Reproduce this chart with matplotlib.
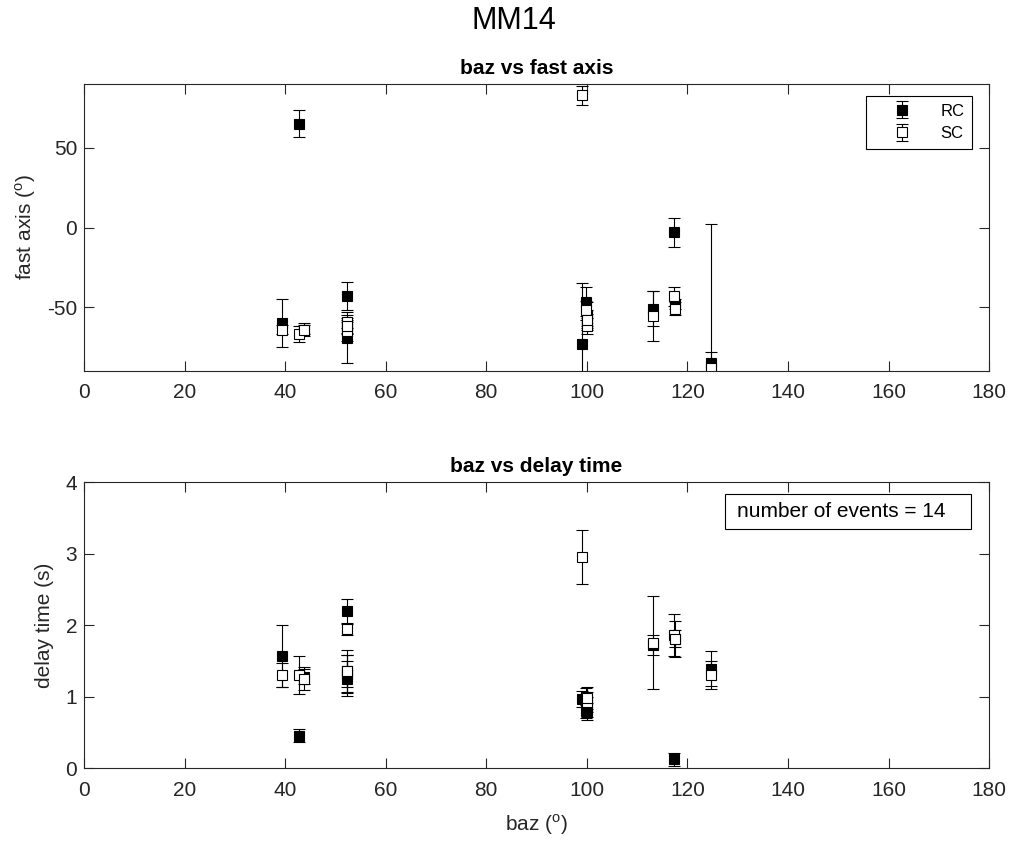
import matplotlib
matplotlib.use("Agg")
import matplotlib.pyplot as plt
from matplotlib.patches import Rectangle

plt.rcParams['font.family'] = ['Liberation Sans', 'DejaVu Sans']
plt.rcParams['mathtext.fontset'] = 'custom'
plt.rcParams['mathtext.rm'] = 'Liberation Sans'
plt.rcParams['axes.unicode_minus'] = False

station = 'MM14'

# back azimuth of each event (deg)
baz = [39.3, 42.8, 43.8, 52.3, 52.3, 52.3, 99.1, 99.8, 100.0, 100.0,
       113.1, 117.4, 117.6, 124.7]

# fast axis (deg) and errors, rotation-correlation (RC) and silver-chan (SC)
fast_rc = [-60, 65, -64, -43, -69, -62, -73, -46.5, -58, -55, -51, -3, -48, -85]
fast_rc_err = [15, 8.5, 3, 9, 16, 5, 38, 9, 6, 8, 11, 9, 3, 87]
fast_sc = [-64, -67, -64, -59, -65, -62, 83, -52, -62, -58, -55.5, -43, -51, -88]
fast_sc_err = [3, 5, 4, 4, 6, 4, 6, 6, 5, 4, 15.5, 6, 4, 10]

# delay time (s) and errors
dt_rc = [1.57, 0.45, 1.28, 2.20, 1.25, 1.32, 0.97, 0.80, 0.79, 0.85,
         1.72, 0.12, 1.80, 1.39]
dt_rc_err = [0.43, 0.09, 0.10, 0.17, 0.24, 0.26, 0.11, 0.10, 0.12, 0.14,
             0.14, 0.09, 0.25, 0.24]
dt_sc = [1.30, 1.30, 1.25, 1.94, 1.35, 1.36, 2.95, 1.00, 0.93, 0.98,
         1.75, 1.86, 1.81, 1.30]
dt_sc_err = [0.17, 0.26, 0.16, 0.08, 0.30, 0.22, 0.38, 0.12, 0.14, 0.15,
             0.65, 0.30, 0.12, 0.20]

axcol = '#262626'
fs = 15

fig = plt.figure(figsize=(10.11, 8.48), dpi=100)
ax1 = fig.add_axes([0.0831, 0.5625, 0.8952, 0.3384])
ax2 = fig.add_axes([0.0831, 0.0943, 0.8952, 0.3373])

eb = dict(fmt='s', color='k', ecolor='k', mec='k', ms=6.5, capsize=4.5,
          elinewidth=0.8, capthick=0.8, mew=0.8)


def style(ax):
    ax.set_xlim(0, 180)
    ax.set_xticks(range(0, 181, 20))
    for s in ax.spines.values():
        s.set_linewidth(0.8)
        s.set_color(axcol)
    ax.tick_params(direction='in', top=True, right=True, length=7,
                   width=0.8, color=axcol, labelcolor=axcol, labelsize=fs)
    ax.tick_params(axis='x', pad=9)
    ax.tick_params(axis='y', pad=5)


# fast axis vs baz
h_rc = ax1.errorbar(baz, fast_rc, yerr=fast_rc_err, mfc='k', label='RC', **eb)
h_sc = ax1.errorbar(baz, fast_sc, yerr=fast_sc_err, mfc='w', label='SC', **eb)
ax1.set_ylim(-90, 90)
ax1.set_yticks([-50, 0, 50])
style(ax1)
ax1.set_title('baz vs fast axis', fontsize=fs, fontweight='bold', pad=7)
ax1.set_ylabel('fast axis ($^{\\mathrm{o}}$)', fontsize=fs, color=axcol, labelpad=6)
leg = ax1.legend(loc='upper right', bbox_to_anchor=(0.981, 0.958),
                 borderaxespad=0, fontsize=12, fancybox=False, framealpha=1,
                 edgecolor='k', handlelength=3.4, handletextpad=0.6,
                 labelspacing=0.45, borderpad=0.45)
leg.get_frame().set_linewidth(0.8)

# delay time vs baz
ax2.errorbar(baz, dt_rc, yerr=dt_rc_err, mfc='k', **eb)
ax2.errorbar(baz, dt_sc, yerr=dt_sc_err, mfc='w', **eb)
ax2.set_ylim(0, 4)
ax2.set_yticks(range(0, 5))
style(ax2)
ax2.set_title('baz vs delay time', fontsize=fs, fontweight='bold', pad=7)
ax2.set_ylabel('delay time (s)', fontsize=fs, color=axcol, labelpad=8)
ax2.set_xlabel('baz ($^{\\mathrm{o}}$)', fontsize=fs, color=axcol, labelpad=9)
ax2.add_patch(Rectangle((0.708, 0.835), 0.272, 0.123, transform=ax2.transAxes,
                        facecolor='w', edgecolor='k', lw=0.8, zorder=5))
ax2.text(0.722, 0.896, 'number of events = %d' % len(baz),
         transform=ax2.transAxes, fontsize=fs, ha='left', va='center', zorder=6)

fig.text(0.508, 0.975, station, fontsize=22, ha='center', va='center')

fig.savefig('out.png', dpi=100)
